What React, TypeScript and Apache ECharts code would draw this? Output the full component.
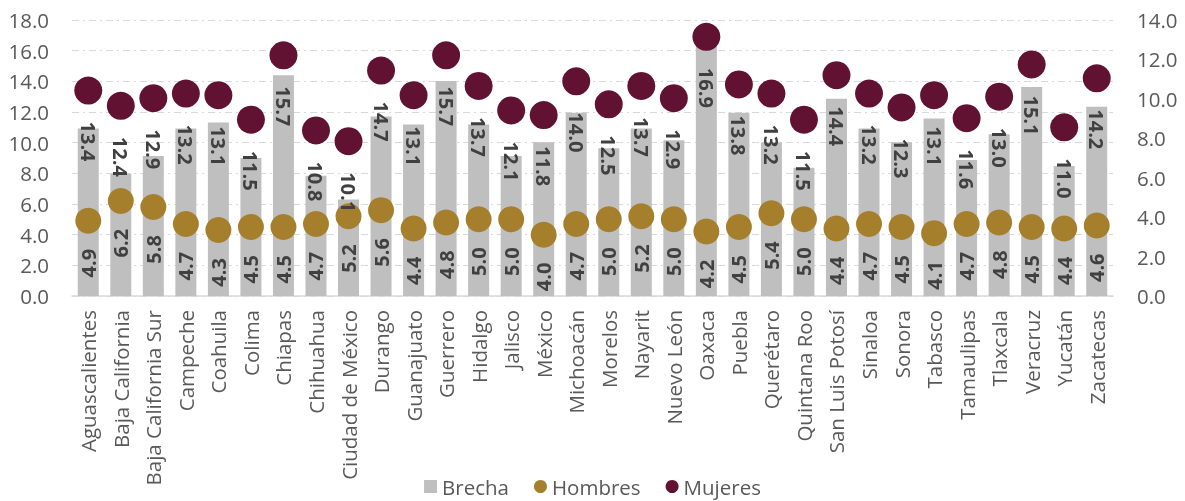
import React, { useEffect, useRef } from "react";
import * as echarts from "echarts";

const categories = [
  "Aguascalientes", "Baja California", "Baja California Sur", "Campeche", "Coahuila",
  "Colima", "Chiapas", "Chihuahua", "Ciudad de México", "Durango", "Guanajuato",
  "Guerrero", "Hidalgo", "Jalisco", "México", "Michoacán", "Morelos", "Nayarit",
  "Nuevo León", "Oaxaca", "Puebla", "Querétaro", "Quintana Roo", "San Luis Potosí",
  "Sinaloa", "Sonora", "Tabasco", "Tamaulipas", "Tlaxcala", "Veracruz", "Yucatán",
  "Zacatecas",
];

const mujeres = [
  13.4, 12.4, 12.9, 13.2, 13.1, 11.5, 15.7, 10.8, 10.1, 14.7, 13.1, 15.7, 13.7, 12.1,
  11.8, 14.0, 12.5, 13.7, 12.9, 16.9, 13.8, 13.2, 11.5, 14.4, 13.2, 12.3, 13.1, 11.6,
  13.0, 15.1, 11.0, 14.2,
];

const hombres = [
  4.9, 6.2, 5.8, 4.7, 4.3, 4.5, 4.5, 4.7, 5.2, 5.6, 4.4, 4.8, 5.0, 5.0, 4.0, 4.7, 5.0,
  5.2, 5.0, 4.2, 4.5, 5.4, 5.0, 4.4, 4.7, 4.5, 4.1, 4.7, 4.8, 4.5, 4.4, 4.6,
];

const brecha = [
  8.5, 6.2, 7.1, 8.5, 8.8, 7.0, 11.2, 6.1, 4.9, 9.1, 8.7, 10.9, 8.7, 7.1, 7.8, 9.3, 7.5,
  8.5, 7.9, 12.7, 9.3, 7.8, 6.5, 10.0, 8.5, 7.8, 9.0, 6.9, 8.2, 10.6, 6.6, 9.6,
];

const FONT = "'Open Sans', 'Noto Sans', sans-serif";
const AXIS_COLOR = "#595959";
const LABEL_COLOR = "#404040";

export default function App() {
  const ref = useRef<HTMLDivElement>(null);

  useEffect(() => {
    if (!ref.current) return;
    const chart = echarts.init(ref.current, null, { renderer: "svg" });
    const fmt = (p: any) => Number(p.value).toFixed(1);
    chart.setOption({
      animation: false,
      textStyle: { fontFamily: FONT },
      grid: { left: 72, right: 72, top: 20, bottom: 205, containLabel: false },
      legend: {
        top: 471,
        left: "center",
        itemWidth: 13,
        itemHeight: 13,
        itemGap: 25,
        itemStyle: { borderWidth: 0 },
        textStyle: { fontSize: 20.5, color: AXIS_COLOR, fontFamily: FONT },
        data: [
          { name: "Brecha", icon: "rect" },
          { name: "Hombres", icon: "circle" },
          { name: "Mujeres", icon: "circle" },
        ],
      },
      xAxis: {
        type: "category",
        data: categories,
        axisTick: { show: false },
        axisLine: { lineStyle: { color: "#D9D9D9", width: 1.5 } },
        axisLabel: {
          rotate: 90,
          interval: 0,
          margin: 14,
          fontSize: 20.5,
          color: AXIS_COLOR,
          fontFamily: FONT,
        },
      },
      yAxis: [
        {
          type: "value",
          min: 0,
          max: 18,
          interval: 2,
          axisLine: { show: false },
          axisTick: { show: false },
          axisLabel: {
            margin: 23,
            fontSize: 20.5,
            color: AXIS_COLOR,
            fontFamily: FONT,
            formatter: (v: number) => v.toFixed(1),
          },
          splitLine: {
            lineStyle: { color: "#D9D9D9", width: 1.2, type: [7, 4, 2, 4] },
          },
        },
        {
          type: "value",
          min: 0,
          max: 14,
          interval: 2,
          axisLine: { show: false },
          axisTick: { show: false },
          splitLine: { show: false },
          axisLabel: {
            margin: 24,
            fontSize: 20.5,
            color: AXIS_COLOR,
            fontFamily: FONT,
            formatter: (v: number) => v.toFixed(1),
          },
        },
      ],
      series: [
        {
          name: "Brecha",
          type: "bar",
          yAxisIndex: 1,
          data: brecha,
          barWidth: 21,
          itemStyle: { color: "#BFBFBF" },
          z: 1,
        },
        {
          name: "Hombres",
          type: "scatter",
          yAxisIndex: 0,
          data: hombres,
          symbolSize: 26,
          itemStyle: { color: "#A57F2C", opacity: 1 },
          z: 3,
          label: {
            show: true,
            position: "bottom",
            distance: 15,
            rotate: 90,
            align: "right",
            verticalAlign: "middle",
            fontSize: 20,
            fontWeight: "bold",
            color: LABEL_COLOR,
            fontFamily: FONT,
            formatter: fmt,
          },
        },
        {
          name: "Mujeres",
          type: "scatter",
          yAxisIndex: 0,
          data: mujeres,
          symbolSize: 28,
          itemStyle: { color: "#611131", opacity: 1 },
          z: 4,
          label: {
            show: true,
            position: "bottom",
            distance: 17,
            rotate: -90,
            align: "left",
            verticalAlign: "middle",
            fontSize: 20,
            fontWeight: "bold",
            color: LABEL_COLOR,
            fontFamily: FONT,
            formatter: fmt,
          },
        },
      ],
    });
    return () => chart.dispose();
  }, []);

  return (
    <div
      ref={ref}
      style={{ position: "fixed", left: 0, top: 0, width: 1185, height: 501 }}
    />
  );
}
